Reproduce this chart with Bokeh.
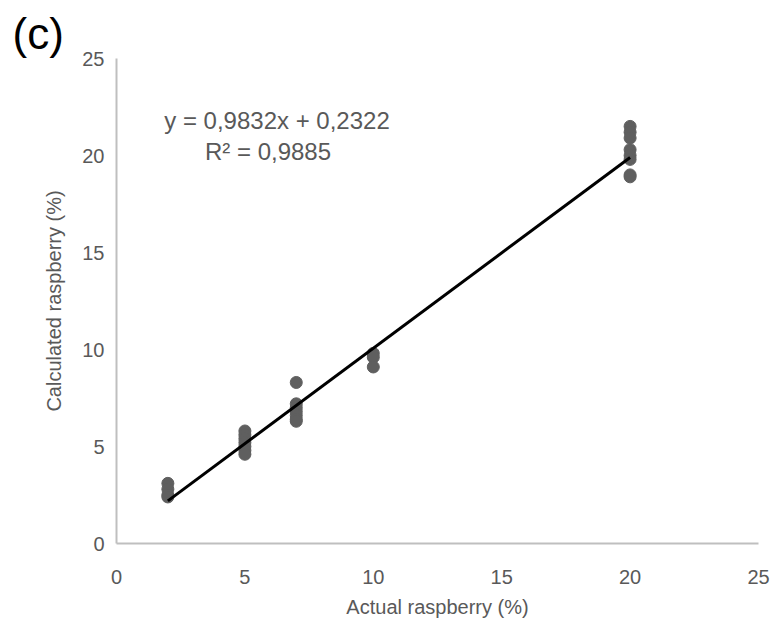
from bokeh.plotting import figure
from bokeh.models import Label, FixedTicker, Range1d, Title
from bokeh.embed import file_html
from bokeh.resources import INLINE

# Data
actual = [2, 2, 2, 2,
          5, 5, 5, 5, 5, 5, 5,
          7, 7, 7, 7, 7, 7, 7,
          10, 10, 10,
          20, 20, 20, 20, 20, 20, 20, 20]
calculated = [3.1, 2.8, 2.5, 2.4,
              5.8, 5.6, 5.4, 5.2, 5.0, 4.8, 4.6,
              8.3, 7.2, 7.0, 6.8, 6.6, 6.4, 6.3,
              9.8, 9.6, 9.1,
              21.5, 21.2, 20.9, 20.3, 20.0, 19.8, 19.0, 18.9]
slope = 0.9832
intercept = 0.2322
fit_x = [2, 20]
fit_y = [slope * v + intercept for v in fit_x]
x_ticks = [0, 5, 10, 15, 20, 25]
y_ticks = [0, 5, 10, 15, 20, 25]

FONT = "Liberation Sans"
GRAY = "#595959"

p = figure(width=778, height=629, output_backend="svg", toolbar_location=None,
           x_range=Range1d(0, 25), y_range=Range1d(0, 25),
           min_border_left=116, min_border_right=20, min_border_top=58, min_border_bottom=86)
p.outline_line_color = None
p.grid.grid_line_color = None
p.background_fill_color = "white"
p.border_fill_color = "white"

p.title = Title(text="(c)", align="left", offset=-104, standoff=2,
                text_font=FONT, text_font_size="44px", text_color="black",
                text_font_style="normal")

for ax in (p.xaxis[0], p.yaxis[0]):
    ax.axis_line_color = "#bfbfbf"
    ax.axis_line_width = 2
    ax.major_tick_line_color = None
    ax.minor_tick_line_color = None
    ax.major_label_text_font = FONT
    ax.major_label_text_font_size = "20px"
    ax.major_label_text_color = GRAY
    ax.axis_label_text_font = FONT
    ax.axis_label_text_font_size = "20px"
    ax.axis_label_text_color = GRAY
    ax.axis_label_text_font_style = "normal"

p.xaxis.ticker = FixedTicker(ticks=x_ticks)
p.yaxis.ticker = FixedTicker(ticks=y_ticks)
p.xaxis.axis_label = "Actual raspberry (%)"
p.yaxis.axis_label = "Calculated raspberry (%)"
p.xaxis.major_label_standoff = 20
p.xaxis.axis_label_standoff = 9
p.yaxis.major_label_standoff = 6
p.yaxis.axis_label_standoff = 14

p.scatter(actual, calculated, size=12, color="#5f5f5f")
p.line(fit_x, fit_y, line_color="black", line_width=3)

p.add_layout(Label(x=6.25, y=21.8, text="y = 0,9832x + 0,2322", text_align="center",
                   text_baseline="middle", text_font=FONT, text_font_size="24px",
                   text_color=GRAY))
p.add_layout(Label(x=5.9, y=20.2, text="R² = 0,9885", text_align="center",
                   text_baseline="middle", text_font=FONT, text_font_size="24px",
                   text_color=GRAY))

open("out.html", "w").write(file_html(p, INLINE))
